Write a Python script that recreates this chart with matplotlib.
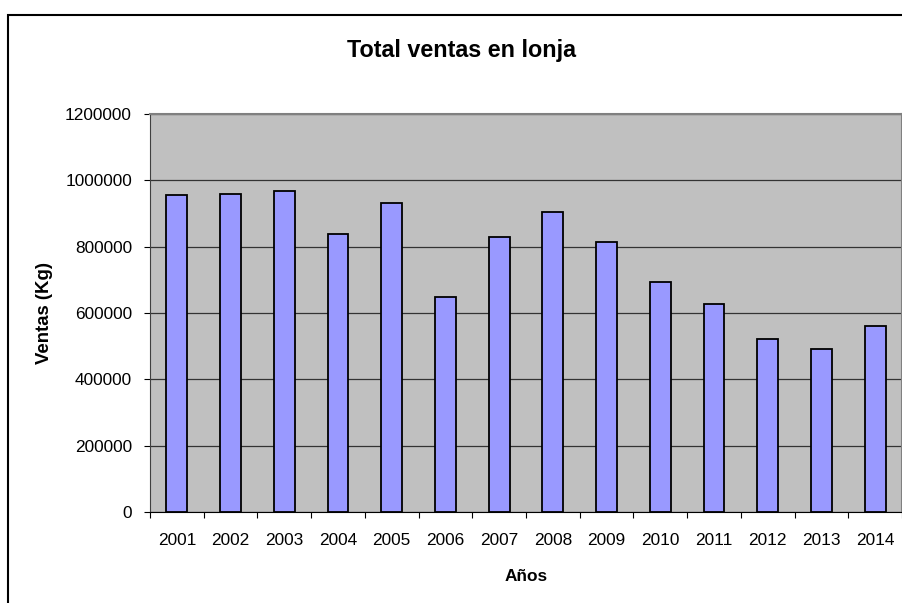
import matplotlib
matplotlib.use("Agg")
import matplotlib.pyplot as plt
import matplotlib.patches as patches
import numpy as np

plt.rcParams['font.family'] = ['Liberation Sans', 'DejaVu Sans']

# Datos
anios = ['2001', '2002', '2003', '2004', '2005', '2006', '2007',
         '2008', '2009', '2010', '2011', '2012', '2013', '2014']
ventas = [955000, 960000, 969000, 837000, 933000, 648000, 830000,
          906000, 815000, 694000, 627000, 523000, 492000, 560000]
yticks = [0, 200000, 400000, 600000, 800000, 1000000, 1200000]

W, H = 903, 603
fig = plt.figure(figsize=(W / 100, H / 100), dpi=100)
fig.patch.set_facecolor('white')

# area de trazado en pixeles: x 150-902, y 114-512
ax = fig.add_axes([150 / W, 1 - 512 / H, (902 - 150) / W, (512 - 114) / H])
ax.set_facecolor('#C0C0C0')

x = np.arange(len(anios))
ax.bar(x, ventas, width=0.39, color='#9999FF', edgecolor='black', linewidth=1.3, zorder=3)

ax.set_xlim(-0.5, len(anios) - 0.5)
ax.set_ylim(0, 1200000)
ax.set_yticks(yticks)
ax.set_yticklabels([str(v) for v in yticks], fontsize=12.4)
ax.yaxis.grid(True, color='#333333', linewidth=0.9, zorder=1)

# ticks del eje x entre categorias
ax.set_xticks(np.arange(-0.5, len(anios), 1.0))
ax.set_xticklabels([])
ax.set_xticks(x, minor=True)
ax.set_xticklabels(anios, minor=True, fontsize=12.4)
ax.tick_params(axis='x', which='minor', length=0, pad=15)
ax.tick_params(axis='x', which='major', length=4, direction='out', color='black')
ax.tick_params(axis='y', length=4, direction='out', color='black', pad=9)

for s in ['top', 'right']:
    ax.spines[s].set_color('#808080')
    ax.spines[s].set_linewidth(1.5)
ax.spines['left'].set_color('#404040')
ax.spines['bottom'].set_color('black')

ax.set_xlabel('Años', fontsize=12.4, fontweight='bold', labelpad=15)
ax.set_ylabel('Ventas (Kg)', fontsize=13.4, fontweight='bold', labelpad=9)

fig.text(462 / W, 1 - 50 / H, 'Total ventas en lonja', fontsize=16.8, fontweight='bold',
         ha='center', va='center')

# marco exterior del grafico
frame = patches.Rectangle((8 / W, -0.1), 1.2, 1 - 15 / H + 0.1, transform=fig.transFigure,
                          fill=False, edgecolor='black', linewidth=1.5)
fig.patches.append(frame)

fig.savefig('out.png', dpi=100)
